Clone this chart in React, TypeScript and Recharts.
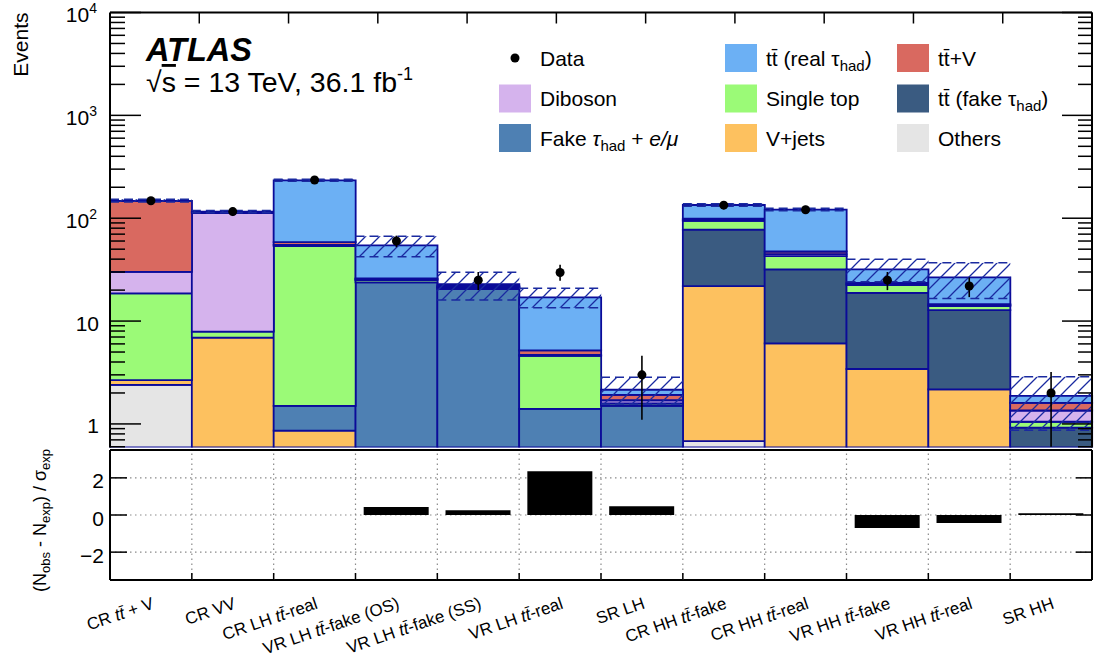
import React from 'react';
import { ComposedChart, Bar, Line, XAxis, YAxis, ErrorBar, CartesianGrid } from 'recharts';

const FONT = "'Liberation Sans', Arial, Helvetica, sans-serif";

// ---------------- data ----------------
const regions = [
  'CR tt\u0304 + V',
  'CR VV',
  'CR LH tt\u0304-real',
  'VR LH tt\u0304-fake (OS)',
  'VR LH tt\u0304-fake (SS)',
  'VR LH tt\u0304-real',
  'SR LH',
  'CR HH tt\u0304-fake',
  'CR HH tt\u0304-real',
  'VR HH tt\u0304-fake',
  'VR HH tt\u0304-real',
  'SR HH',
];

// stacked backgrounds, bottom to top
const others = [2.4, 0, 0, 0, 0, 0, 0, 0.68, 0, 0, 0, 0];
const vjets = [0.27, 6.9, 0.86, 0.3, 0.2, 0.1, 0.05, 21.2, 6.07, 3.42, 2.17, 0.2];
const fakeLep = [0, 0, 0.64, 23.5, 20.3, 1.3, 1.45, 0, 0, 0, 0, 0];
const ttFake = [0, 0, 0, 0, 0, 0, 0, 55.7, 25.7, 15.4, 10.6, 0.72];
const singleTop = [15.9, 1.0, 52, 1.2, 0.6, 3.18, 0.08, 16.6, 11, 3.6, 1.2, 0.13];
const diboson = [11.5, 104, 1.5, 0.5, 0.3, 0.1, 0.12, 2, 2, 0.5, 0.3, 0.3];
const ttV = [117, 2, 3.5, 0.5, 0.4, 0.5, 0.22, 3, 2.7, 0.6, 0.3, 0.25];
const ttReal = [0, 2, 175, 28.4, 1.0, 11.8, 0.23, 35.3, 73.9, 8.3, 12, 0.27];

// total-uncertainty band
const bandLow = [144, 113, 229, 42.1, 16.0, 13.5, 1.56, 131, 118, 24.1, 16.6, 0.87];
const bandHigh = [153, 119, 239, 66.8, 29.9, 20.8, 2.84, 138, 125, 40, 36.8, 2.88];

// observed data
const dataObs = [148, 116, 235, 60, 25, 29.7, 3.0, 134, 121, 25, 21.9, 2.0];
const dataErrLow = [12, 11, 15, 7.7, 5, 5, 1.9, 11.6, 11, 5, 4.8, 1.4];
const dataErrHigh = [12, 11, 15, 7.7, 5, 5.5, 1.6, 11.6, 11, 5, 4.7, 1.2];

// pulls (lower panel)
const pulls = [0, 0, 0, 0.43, 0.25, 2.35, 0.47, 0, 0, -0.7, -0.43, 0.1];

// axis ticks
const yMajorTicks = [1, 10, 100, 1000, 10000];
const yMajorBase = ['1', '10', '10', '10', '10'];
const yMajorExp = ['', '', '2', '3', '4'];
const yMinorTicks = [
  0.6, 0.7, 0.8, 0.9,
  2, 3, 4, 5, 6, 7, 8, 9,
  20, 30, 40, 50, 60, 70, 80, 90,
  200, 300, 400, 500, 600, 700, 800, 900,
  2000, 3000, 4000, 5000, 6000, 7000, 8000, 9000,
];
const binEdges = [1, 2, 3, 4, 5, 6, 7, 8, 9, 10, 11];
const pullTicks = [-2, 0, 2];
const pullTickLabels = ['\u22122', '0', '2'];

// series meta
const seriesKeys = ['others', 'vjets', 'fakeLep', 'ttFake', 'singleTop', 'diboson', 'ttV', 'ttReal'];
const seriesColors = ['#e5e5e5', '#fdc15f', '#4e80b3', '#3a5b81', '#9bfa77', '#d5b3ed', '#d96960', '#6cb0f4'];
const seriesValues = [others, vjets, fakeLep, ttFake, singleTop, diboson, ttV, ttReal];

const STROKE = '#0b0b99';
const HATCH = '#1a2aa0';
const GRID = '#8a8a8a';

// layout (pixels)
const PLOT_W = 982;
const PULL_H = 130;
const BIN_HALF = PLOT_W / regions.length / 2;

const mainRows = regions.map((name, i) => {
  const row: any = { name };
  seriesKeys.forEach((k, j) => {
    row[k] = seriesValues[j][i];
  });
  row.band = [bandLow[i], bandHigh[i]];
  row.data = dataObs[i];
  row.dataErr = [dataErrLow[i], dataErrHigh[i]];
  return row;
});

const ratioRows = regions.map((name, i) => ({ name, pull: pulls[i] }));

const allYTicks = [...yMinorTicks, ...yMajorTicks].sort((a, b) => a - b);

// ---------------- tick renderers ----------------
const LeftLogTick = (p: any) => {
  const x = Number(p.x);
  const y = Number(p.y);
  const v = p.payload.value;
  const mi = yMajorTicks.indexOf(v);
  const major = mi >= 0;
  const len = major ? 31 : 15;
  const exp = major ? yMajorExp[mi] : '';
  return (
    <g>
      <line x1={x} x2={x + len} y1={y} y2={y} stroke="#000" strokeWidth={1.5} />
      {major && (
        <text x={x - (exp ? 13 : 11)} y={y + 9.5} textAnchor="end" fontFamily={FONT} fontSize={21} fill="#000">
          <tspan>{yMajorBase[mi]}</tspan>
          {exp && (
            <tspan fontSize={14} dy={-9}>
              {exp}
            </tspan>
          )}
        </text>
      )}
    </g>
  );
};

const RightLogTick = (p: any) => {
  const x = Number(p.x);
  const y = Number(p.y);
  const major = yMajorTicks.indexOf(p.payload.value) >= 0;
  const len = major ? 30 : 14;
  return <line x1={x} x2={x - len} y1={y} y2={y} stroke="#000" strokeWidth={1.5} />;
};

const makeBottomTick = (len: number) => (p: any) => {
  const x = Number(p.x);
  const y = Number(p.y);
  return <line x1={x} x2={x} y1={y} y2={y - len} stroke="#000" strokeWidth={1.5} />;
};
const makeTopTick = (len: number) => (p: any) => {
  const x = Number(p.x);
  const y = Number(p.y);
  return <line x1={x} x2={x} y1={y} y2={y + len} stroke="#000" strokeWidth={1.5} />;
};

const LeftPullTick = (p: any) => {
  const x = Number(p.x);
  const y = Number(p.y);
  const idx = pullTicks.indexOf(p.payload.value);
  return (
    <g>
      <line x1={x} x2={x + 17} y1={y} y2={y} stroke="#000" strokeWidth={1.5} />
      <text x={x - 6} y={y + 10.5} textAnchor="end" fontFamily={FONT} fontSize={21} fill="#000">
        {pullTickLabels[idx]}
      </text>
    </g>
  );
};
const RightPullTick = (p: any) => {
  const x = Number(p.x);
  const y = Number(p.y);
  return <line x1={x} x2={x - 16} y1={y} y2={y} stroke="#000" strokeWidth={1.5} />;
};

const TT = 'tt\u0304';
const renderRegion = (label: string) => {
  const parts = label.split(TT);
  const out: any[] = [];
  parts.forEach((s, i) => {
    if (s) out.push(<tspan key={'s' + i}>{s}</tspan>);
    if (i < parts.length - 1)
      out.push(
        <tspan key={'t' + i} fontStyle="italic">
          {TT}
        </tspan>
      );
  });
  return out;
};

// category tick of the pull panel: rotated region label + bin-edge tick and dotted grid line
const RegionTick = (p: any) => {
  const x = Number(p.x);
  const y = Number(p.y);
  const label = String(p.payload.value);
  const idx = regions.indexOf(label);
  const off = Number(p.payload && p.payload.offset);
  const half = Number.isFinite(off) && off > 0 ? off : BIN_HALF;
  const edgeX = x + half;
  const last = idx === regions.length - 1;
  const px = x + 4;
  const py = y + 28;
  return (
    <g>
      {!last && (
        <line
          x1={edgeX}
          x2={edgeX}
          y1={y}
          y2={y - PULL_H}
          stroke={GRID}
          strokeWidth={1.2}
          strokeDasharray="1.5 3.5"
        />
      )}
      {!last && <line x1={edgeX} x2={edgeX} y1={y} y2={y - 7} stroke="#000" strokeWidth={1.5} />}
      <g transform={`translate(${px} ${py}) rotate(-19)`}>
        <text x={0} y={0} textAnchor="end" fontFamily={FONT} fontSize={17} fill="#000">
          {renderRegion(label)}
        </text>
      </g>
    </g>
  );
};

const BandShape = (p: any) => {
  const { x, y, width, height } = p;
  if (![x, y, width, height].every((n) => Number.isFinite(n))) return <g />;
  return (
    <g>
      <rect x={x} y={y} width={width} height={height} fill="url(#atlasHatch)" stroke="none" />
      <line x1={x} x2={x + width} y1={y} y2={y} stroke={HATCH} strokeWidth={1.5} strokeDasharray="9 5" />
      <line
        x1={x}
        x2={x + width}
        y1={y + height}
        y2={y + height}
        stroke={HATCH}
        strokeWidth={1.5}
        strokeDasharray="9 5"
      />
    </g>
  );
};

// ---------------- legend ----------------
const legendOrder = ['data', 'ttReal', 'ttV', 'diboson', 'singleTop', 'ttFake', 'fakeLep', 'vjets', 'others'];
const legendColX = [499, 725, 897];
const legendRowY = [58, 98.5, 138];

const legendLabel = (k: string) => {
  switch (k) {
    case 'data':
      return <tspan>Data</tspan>;
    case 'ttReal':
      return [
        <tspan key="a">{'tt\u0304 (real \u03c4'}</tspan>,
        <tspan key="h" fontSize={15} dy={5}>
          had
        </tspan>,
        <tspan key="c" dy={-5}>
          )
        </tspan>,
      ];
    case 'ttV':
      return <tspan>{'tt\u0304+V'}</tspan>;
    case 'diboson':
      return <tspan>Diboson</tspan>;
    case 'singleTop':
      return <tspan>Single top</tspan>;
    case 'ttFake':
      return [
        <tspan key="a">{'tt\u0304 (fake \u03c4'}</tspan>,
        <tspan key="h" fontSize={15} dy={5}>
          had
        </tspan>,
        <tspan key="c" dy={-5}>
          )
        </tspan>,
      ];
    case 'fakeLep':
      return [
        <tspan key="a">Fake </tspan>,
        <tspan key="b" fontStyle="italic">
          {'\u03c4'}
        </tspan>,
        <tspan key="h" fontSize={15} dy={5}>
          had
        </tspan>,
        <tspan key="c" dy={-5}>
          {' + '}
        </tspan>,
        <tspan key="d" fontStyle="italic">
          {'e/\u03bc'}
        </tspan>,
      ];
    case 'vjets':
      return <tspan>V+jets</tspan>;
    default:
      return <tspan>Others</tspan>;
  }
};

const Overlay = () => (
  <svg
    width={1097}
    height={659}
    style={{ position: 'absolute', left: 0, top: 0, pointerEvents: 'none' }}
    fontFamily={FONT}
  >
    {/* ATLAS label */}
    <text x={146} y={61} fontSize={32.5} fontWeight="bold" fontStyle="italic" fill="#000">
      ATLAS
    </text>
    <text x={146} y={92} fontSize={28.5} fill="#000">
      <tspan>{'\u221a'}</tspan>
      <tspan style={{ textDecoration: 'overline' }}>s</tspan>
      <tspan>{' = 13 TeV, 36.1 fb'}</tspan>
      <tspan fontSize={18} dy={-12}>
        -1
      </tspan>
    </text>

    {/* legend */}
    {legendOrder.map((k, i) => {
      const col = i % 3;
      const row = Math.floor(i / 3);
      const bx = legendColX[col];
      const cy = legendRowY[row];
      const si = seriesKeys.indexOf(k);
      return (
        <g key={k}>
          {k === 'data' ? (
            <circle cx={bx + 16} cy={cy} r={4.5} fill="#000" />
          ) : (
            <rect x={bx} y={cy - 14} width={32} height={28} fill={seriesColors[si]} />
          )}
          <text x={bx + 41} y={cy + 7.5} fontSize={21} fill="#000">
            {legendLabel(k)}
          </text>
        </g>
      );
    })}

    {/* axis titles */}
    <text x={28} y={12.5} textAnchor="end" transform="rotate(-90 28 12.5)" fontSize={21} fill="#000">
      Events
    </text>
    <text x={46} y={449} textAnchor="end" transform="rotate(-90 46 449)" fontSize={18} fill="#000">
      <tspan>(N</tspan>
      <tspan fontSize={13} dy={4}>
        obs
      </tspan>
      <tspan dy={-4}>{' - N'}</tspan>
      <tspan fontSize={13} dy={4}>
        exp
      </tspan>
      <tspan dy={-4}>{') / \u03c3'}</tspan>
      <tspan fontSize={13} dy={4}>
        exp
      </tspan>
    </text>
  </svg>
);

// ---------------- app ----------------
export default function App() {
  const axisLine = { stroke: '#000', strokeWidth: 2 };
  return (
    <div style={{ position: 'absolute', left: 0, top: 0, width: 1097, height: 659, background: '#fff' }}>
      <svg width={0} height={0} style={{ position: 'absolute' }}>
        <defs>
          <pattern id="atlasHatch" patternUnits="userSpaceOnUse" width={14} height={14}>
            <path d="M0,14 L14,0 M-3.5,3.5 L3.5,-3.5 M10.5,17.5 L17.5,10.5" stroke={HATCH} strokeWidth={1.3} />
          </pattern>
        </defs>
      </svg>

      {/* main panel: plot area x 110..1092, y 12.5..447.5 */}
      <div style={{ position: 'absolute', left: 0, top: 0 }}>
        <ComposedChart
          width={1097}
          height={460}
          data={mainRows}
          margin={{ top: 11.5, right: 4, bottom: 11.5, left: 109 }}
          barCategoryGap={0}
          barGap={0}
        >
          {seriesKeys.map((k, i) => (
            <Bar
              key={k}
              xAxisId="cat"
              yAxisId="L"
              stackId="mc"
              dataKey={k}
              fill={seriesColors[i]}
              stroke={STROKE}
              strokeWidth={1.8}
              isAnimationActive={false}
            />
          ))}
          <Bar xAxisId="band" yAxisId="L" dataKey="band" shape={BandShape} isAnimationActive={false} />
          <Line
            xAxisId="cat"
            yAxisId="L"
            dataKey="data"
            stroke="none"
            strokeWidth={0}
            dot={{ r: 4.5, fill: '#000', stroke: '#000', strokeWidth: 0 }}
            activeDot={false}
            isAnimationActive={false}
          >
            <ErrorBar dataKey="dataErr" width={0} stroke="#000" strokeWidth={1.6} direction="y" />
          </Line>

          <XAxis xAxisId="cat" dataKey="name" type="category" hide />
          <XAxis xAxisId="band" dataKey="name" type="category" hide />
          <XAxis
            xAxisId="edgeB"
            type="number"
            domain={[0, 12]}
            allowDataOverflow
            ticks={binEdges}
            interval={0}
            height={1}
            axisLine={axisLine}
            tickLine={false}
            tickSize={0}
            tickMargin={0}
            tick={makeBottomTick(12)}
          />
          <XAxis
            xAxisId="edgeT"
            orientation="top"
            type="number"
            domain={[0, 12]}
            allowDataOverflow
            ticks={binEdges}
            interval={0}
            height={1}
            axisLine={axisLine}
            tickLine={false}
            tickSize={0}
            tickMargin={0}
            tick={makeTopTick(11)}
          />
          <YAxis
            yAxisId="L"
            type="number"
            scale="log"
            domain={[0.59, 10000]}
            allowDataOverflow
            ticks={allYTicks}
            interval={0}
            width={1}
            axisLine={axisLine}
            tickLine={false}
            tickSize={0}
            tickMargin={0}
            tick={LeftLogTick}
          />
          <YAxis
            yAxisId="R"
            orientation="right"
            type="number"
            scale="log"
            domain={[0.59, 10000]}
            allowDataOverflow
            ticks={allYTicks}
            interval={0}
            width={1}
            axisLine={axisLine}
            tickLine={false}
            tickSize={0}
            tickMargin={0}
            tick={RightLogTick}
          />
        </ComposedChart>
      </div>

      {/* pull panel: plot area y 449.5..579.5 */}
      <div style={{ position: 'absolute', left: 0, top: 448.5 }}>
        <ComposedChart
          width={1097}
          height={210.5}
          data={ratioRows}
          margin={{ top: 0, right: 4, bottom: 78.5, left: 109 }}
          barCategoryGap="10%"
        >
          <CartesianGrid
            xAxisId="cat"
            yAxisId="P"
            vertical={false}
            stroke={GRID}
            strokeWidth={1.2}
            strokeDasharray="1.5 3.5"
          />
          <Bar xAxisId="cat" yAxisId="P" dataKey="pull" fill="#000" isAnimationActive={false} />

          <XAxis
            xAxisId="cat"
            dataKey="name"
            type="category"
            height={1}
            axisLine={axisLine}
            tickLine={false}
            tickSize={0}
            tickMargin={0}
            interval={0}
            tick={RegionTick}
          />
          <XAxis
            xAxisId="catT"
            dataKey="name"
            type="category"
            orientation="top"
            height={1}
            axisLine={axisLine}
            tickLine={false}
            tick={false}
          />
          <YAxis
            yAxisId="P"
            type="number"
            domain={[-3.5, 3.5]}
            allowDataOverflow
            ticks={pullTicks}
            interval={0}
            width={1}
            axisLine={axisLine}
            tickLine={false}
            tickSize={0}
            tickMargin={0}
            tick={LeftPullTick}
          />
          <YAxis
            yAxisId="P2"
            orientation="right"
            type="number"
            domain={[-3.5, 3.5]}
            allowDataOverflow
            ticks={pullTicks}
            interval={0}
            width={1}
            axisLine={axisLine}
            tickLine={false}
            tickSize={0}
            tickMargin={0}
            tick={RightPullTick}
          />
        </ComposedChart>
      </div>

      <Overlay />
    </div>
  );
}
